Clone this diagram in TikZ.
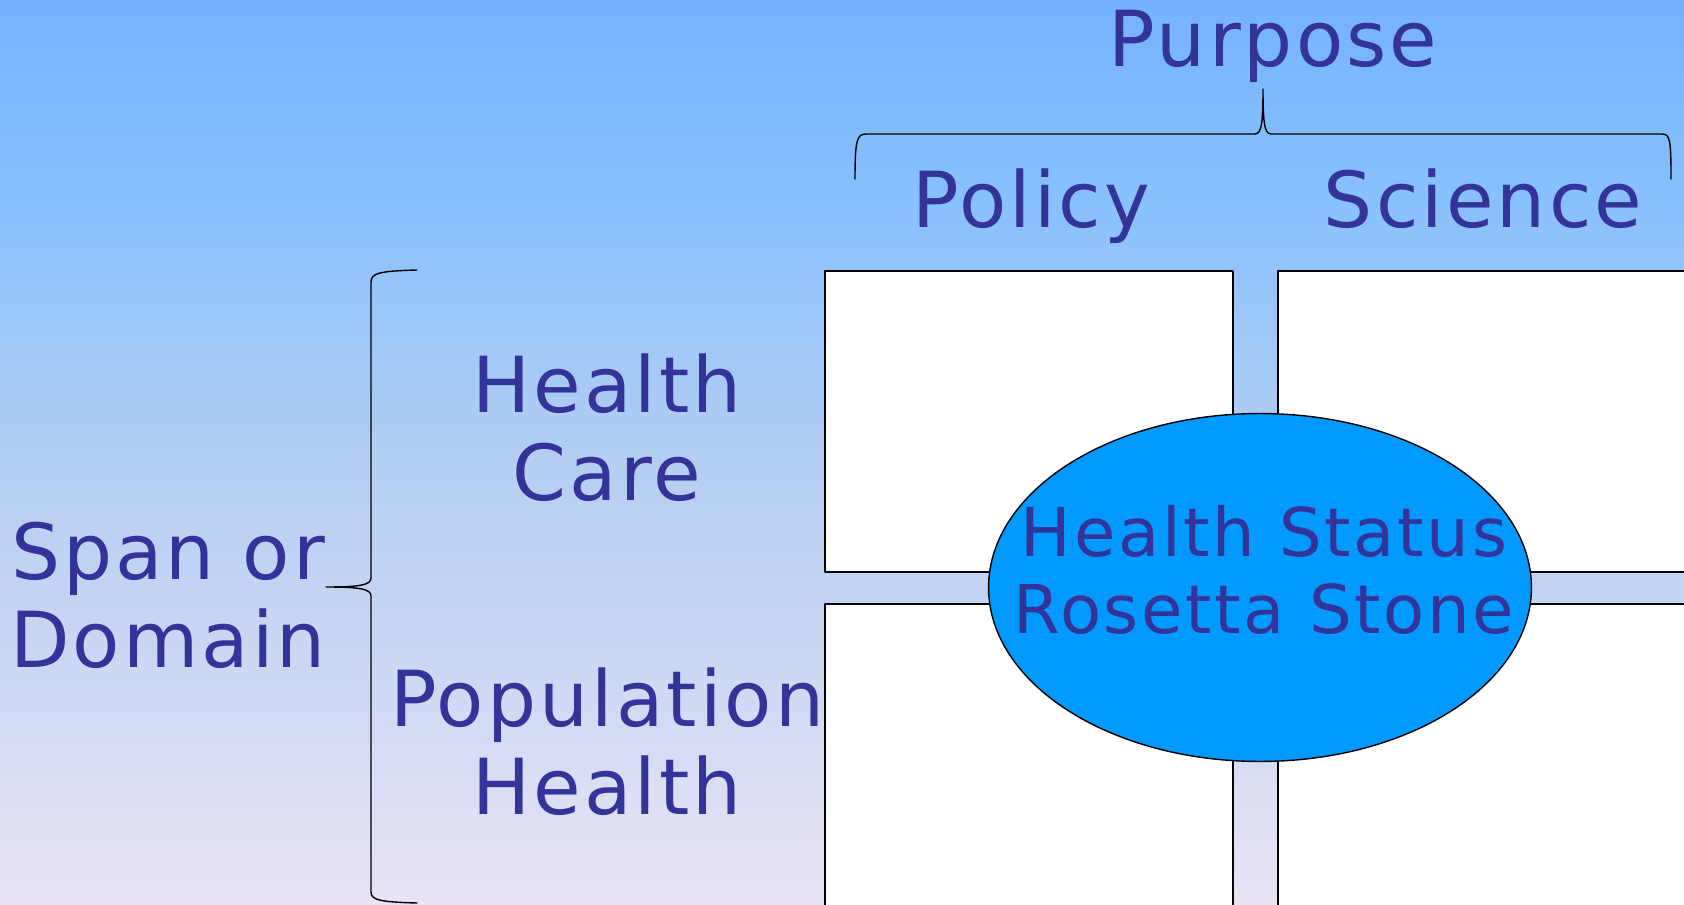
\documentclass[tikz,border=0pt]{standalone}
\usepackage{fontspec}
\setmainfont{DejaVu Sans}[LetterSpace=4]
\usetikzlibrary{shapes.geometric}
\definecolor{inkblue}{RGB}{51,51,153}
\definecolor{skytop}{RGB}{117,178,255}
\definecolor{skyup}{RGB}{136,192,255}
\definecolor{skymid}{RGB}{178,206,242}
\definecolor{skybot}{RGB}{233,227,245}
\definecolor{stoneblue}{RGB}{0,153,255}
\pgfdeclareverticalshading{sky}{100bp}{color(0bp)=(skybot); color(25bp)=(skybot);
  color(50bp)=(skymid); color(64bp)=(skyup); color(75bp)=(skytop); color(100bp)=(skytop)}
\tikzset{
  lbl/.style={text=inkblue,font=\fontsize{44}{50}\selectfont,align=center,inner sep=0pt},
  cell/.style={draw=black,fill=white,line width=0.8pt},
  brace/.style={draw=black,line width=0.8pt},
}
\begin{document}
\begin{tikzpicture}[line cap=round,line join=round,x=0.02cm,y=-0.02cm]
\useasboundingbox (0,0) rectangle (1684,905);
\clip (0,0) rectangle (1684,905);
\shade[shading=sky] (0,0) rectangle (1684,905);
% the four quadrants
\draw[cell] (825,271) rectangle (1233,572);
\draw[cell] (1278,271) rectangle (1700,572);
\draw[cell] (825,604) rectangle (1233,920);
\draw[cell] (1278,604) rectangle (1700,920);
% centre
\node[ellipse,draw=black,fill=stoneblue,line width=0.8pt,inner sep=0pt,minimum width=10.86cm,minimum height=6.96cm] (stone) at (1260,587.5) {};
\node[lbl,font=\fontsize{38.3}{43.7}\selectfont] (status) at (1264,570) {Health Status\\Rosetta Stone};
% column heads
\node[lbl,anchor=base] (purpose) at (1273,67) {Purpose};
\node[lbl,anchor=base] (policy) at (1031,228) {Policy};
\node[lbl,anchor=base] (science) at (1483,228) {Science};
% row heads
\node[lbl] (care) at (607,428) {Health\\Care};
\node[lbl] (popul) at (607,742) {Population\\Health};
\node[lbl] (span) at (168,595) {Span or\\Domain};
% braces
\draw[brace] (855,179) .. controls (855,140) and (857,134) .. (866,134) -- (1255,134)
  .. controls (1262,134) and (1263,120) .. (1263,89)
  .. controls (1263,120) and (1264,134) .. (1271,134) -- (1662,134)
  .. controls (1670,134) and (1671,140) .. (1671,179);
\draw[brace] (417,270) .. controls (380,271) and (371,273) .. (371,282) -- (371,578)
  .. controls (371,585) and (360,587) .. (326,587)
  .. controls (360,587) and (371,589) .. (371,596) -- (371,892)
  .. controls (371,900) and (380,902) .. (417,903);
\end{tikzpicture}
\end{document}
